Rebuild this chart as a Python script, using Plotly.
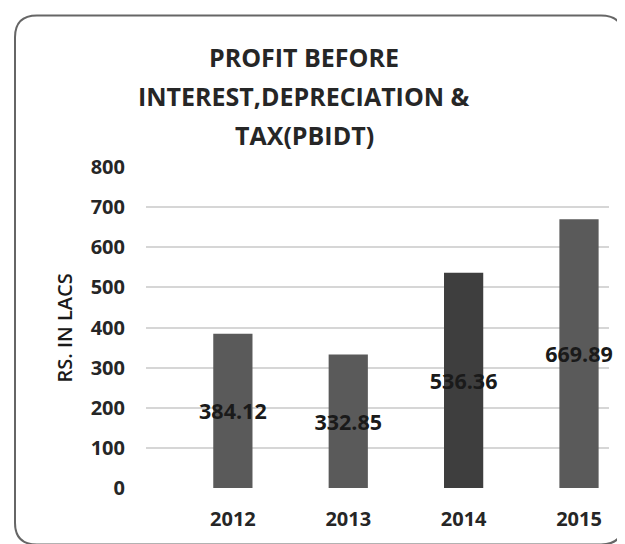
import plotly.graph_objects as go

years = ["2012", "2013", "2014", "2015"]
pbidt = [384.12, 332.85, 536.36, 669.89]
bar_colors = ["#5a5a5a", "#5a5a5a", "#3e3e3e", "#5a5a5a"]
y_ticks = [0, 100, 200, 300, 400, 500, 600, 700, 800]
title_lines = ["PROFIT BEFORE", "INTEREST,DEPRECIATION &", "TAX(PBIDT)"]
y_title = "RS. IN LACS"

# the page body has an 8px margin, so the figure starts at window (8, 8)
OFF = 8
W, H = 625 - OFF, 544 - OFF
ML, MR, MT, MB = 146 - OFF, 625 - 609, 167 - OFF, 544 - 491
PW, PH = W - ML - MR, H - MT - MB


def px_x(px):
    return (px - OFF - ML) / PW


def px_y(py):
    return (H - MB - (py - OFF)) / PH


FONT = "Open Sans"

fig = go.Figure()
fig.add_trace(go.Bar(
    x=years, y=pbidt, marker=dict(color=bar_colors, line=dict(width=0)),
    width=0.34,
    text=[f"{v:.2f}" for v in pbidt],
    textposition="inside", insidetextanchor="middle", textangle=0,
    constraintext="none", cliponaxis=False,
    textfont=dict(family=FONT, size=21.5, color="#1a1a1a", weight="bold"),
    hoverinfo="skip",
))

# rounded border
x0, x1, y0, y1, r = px_x(15), px_x(623), px_y(14), px_y(548), 22
rx, ry = r / PW, r / PH
path = (f"M {x0+rx},{y0} L {x1-rx},{y0} Q {x1},{y0} {x1},{y0-ry} "
        f"L {x1},{y1+ry} Q {x1},{y1} {x1-rx},{y1} L {x0+rx},{y1} "
        f"Q {x0},{y1} {x0},{y1+ry} L {x0},{y0-ry} Q {x0},{y0} {x0+rx},{y0} Z")
shapes = [dict(type="path", path=path, xref="paper", yref="paper",
               line=dict(color="#666666", width=2), layer="below")]

annotations = []
for i, line in enumerate(title_lines):
    annotations.append(dict(
        text=line, x=px_x(304), y=px_y(56 + 39.5 * i), xref="paper", yref="paper",
        showarrow=False, xanchor="center", yanchor="middle",
        font=dict(family=FONT, size=25, color="#262626", weight="bold")))
annotations.append(dict(
    text=y_title, x=px_x(64), y=px_y(330), xref="paper", yref="paper",
    showarrow=False, textangle=-90, xanchor="center", yanchor="middle",
    font=dict(family=FONT, size=20, color="#1a1a1a", weight=600)))

fig.update_layout(
    width=W, height=H,
    margin=dict(l=ML, r=MR, t=MT, b=MB, pad=0),
    paper_bgcolor="white", plot_bgcolor="white",
    showlegend=False,
    shapes=shapes, annotations=annotations,
    xaxis=dict(type="category", range=[-0.753, 3.26], showgrid=False,
               showline=False, zeroline=False, ticks="",
               ticklabelstandoff=17,
               tickfont=dict(family=FONT, size=20, color="#262626", weight="bold")),
    yaxis=dict(range=[0, 800], tickvals=y_ticks, showgrid=True,
               gridcolor="#d6d6d6", gridwidth=2, zeroline=False,
               showline=False, ticks="", ticklabelstandoff=20,
               tickfont=dict(family=FONT, size=20, color="#262626", weight="bold")),
)

fig.write_html("out.html")
